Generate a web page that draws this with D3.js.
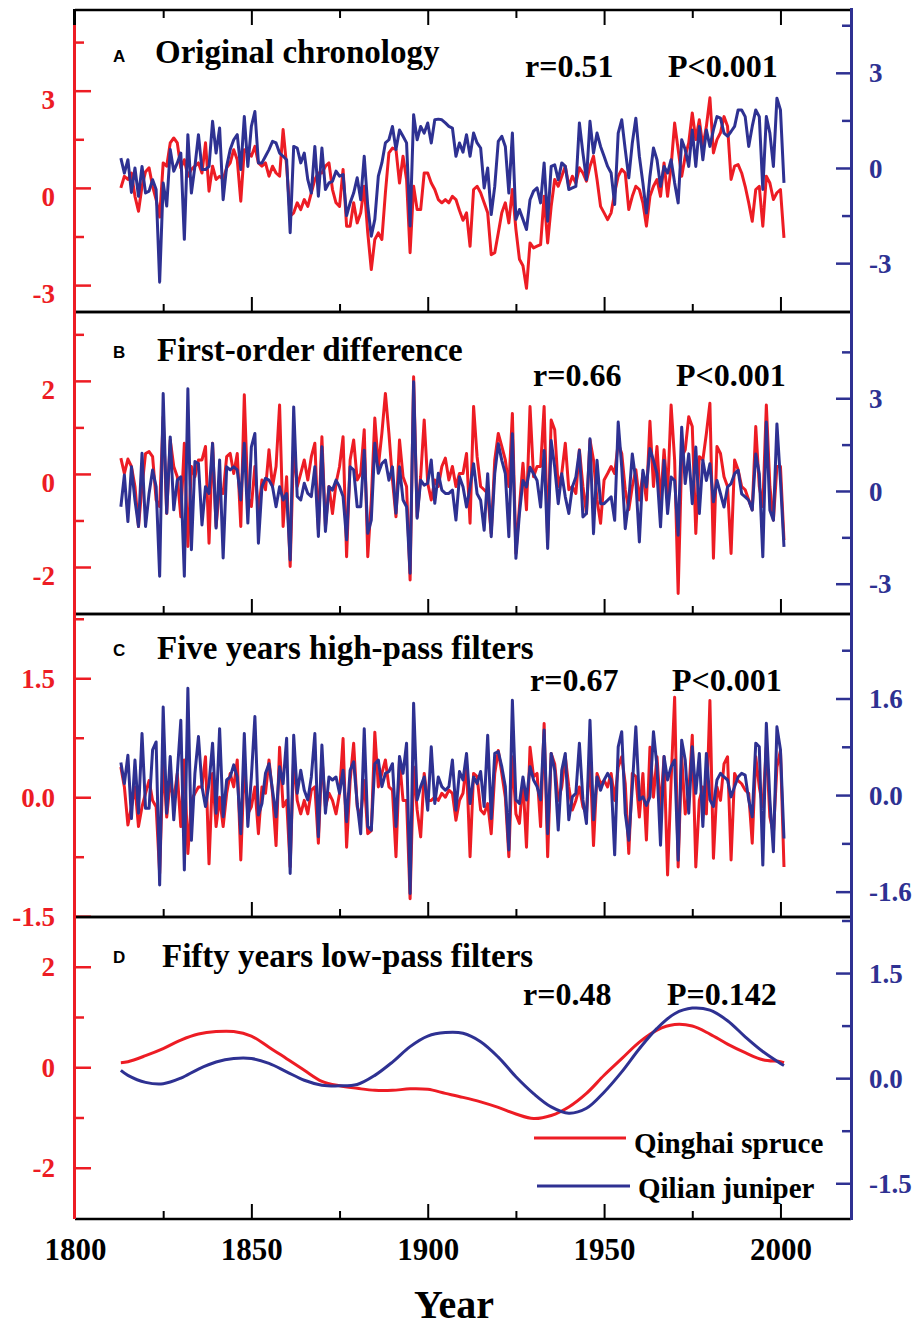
<!DOCTYPE html>
<html>
<head>
<meta charset="utf-8">
<script src="https://cdn.jsdelivr.net/npm/d3@7"></script>
<style>
  body { margin: 0; background: #fff; }
  svg { display: block; }
</style>
</head>
<body>
<div id="main"></div>
<script>
// years covered by the annual series
const startYear = 1813;
const endYear = 2001;
const years = d3.range(startYear, endYear + 1);

// A: original chronology
const spruceRaw = [
  0.0, 0.36, 0.26, 0.46, -0.26, -0.72, 0.05, 0.5, 0.62, 0.05,
  -0.36, -0.9, 0.77, 0.67, 1.39, 1.54, 1.39, 0.62, 0.87, 0.36,
  0.57, 0.67, 0.77, 0.46, 1.39, -0.1, 0.67, 0.26, 0.36, 0.26,
  0.62, 0.77, 1.18, 0.87, -0.41, 1.18, 1.08, 0.98, 1.28, 0.77,
  0.67, 0.77, 0.36, 0.67, 0.46, 0.36, 1.8, 0.67, -0.87, -0.77,
  -0.46, -0.67, -0.36, -0.57, -0.15, 0.26, 0.46, 0.46, 0.67, 0.77,
  -0.05, -0.46, -0.57, 0.57, -1.18, -1.18, -0.46, -1.08, -0.77, 0.05,
  -1.39, -2.52, -1.59, -1.39, -1.59, -0.15, 1.08, 1.23, 1.18, 0.15,
  0.98, 0.26, -2.0, 0.05, -0.67, -0.67, 0.46, 0.46, 0.15, -0.05,
  -0.36, -0.46, -0.36, -0.46, -0.26, -0.36, -0.7, -1.0, -0.77, -1.8,
  -0.05, 0.05, -0.15, -0.46, -0.77, -2.06, -2.0, -1.39, -0.77, -0.46,
  -1.08, -0.05, -1.28, -2.2, -2.4, -3.1, -1.7, -1.85, -1.8, -1.75,
  -0.26, -1.7, -0.57, 0.26, 0.05, 0.36, 0.67, 0.05, 0.36, 0.15,
  0.62, 0.46, 0.21, 0.67, 0.98, 0.26, -0.57, -0.77, -0.98, -0.77,
  -0.15, 0.36, 0.57, 0.46, -0.67, -0.26, 0.05, -0.05, -0.46, -1.18,
  -0.26, 0.05, 0.26, -0.26, 0.77, -0.26, 0.67, 2.0, 1.18, 0.36,
  0.98, 1.39, 2.31, 1.49, 2.1, 1.28, 1.9, 2.78, 1.08, 1.49,
  1.7, 2.2, 1.9, 0.26, 0.67, 0.72, 0.46, 0.05, -0.46, -1.03,
  -0.05, 0.05, -1.18, 0.36, 0.15, -0.36, -0.15, -0.05, -1.54
];
const juniperRaw = [
  0.31, -0.16, 0.26, -0.77, 0, -0.89, 0.05, -0.79, -0.73, -0.37,
  -0.68, -3.6, -0.47, -1.2, 0.58, -0.1, 0.16, 0.47, -2.25, 1.05,
  -0.79, 0.05, 1.05, -0.05, -0.05, 0.05, 1.47, 0.47, 1.26, -1.0,
  0.05, 0.58, 0.89, 1.05, -0.05, 1.62, 0.05, 1.31, 1.78, 0.16,
  0.16, 0.37, 0.58, 0.84, 0.79, 0.47, 0.37, 0.26, -2.04, 0.68,
  0.63, 0.16, 0.47, -0.37, -0.79, 0.68, -0.89, 0.63, -0.68, -0.47,
  -0.42, -0.1, -0.26, -0.21, -1.5, -1.1, -0.79, -0.31, -1.0, 0.37,
  -1.2, -2.15, -1.62, -0.26, 0.16, 0.79, 0.89, 1.31, 0.58, 1.2,
  1.0, 0.79, -1.83, 1.68, 0.89, 1.31, 1.1, 1.42, 0.79, 1.52,
  1.54, 1.52, 1.42, 1.31, 1.26, 0.37, 0.79, 0.5, 1.05, 0.37,
  1.1, 0.79, 0.63, -0.63, 0, -1.47, -0.58, 0.84, 1.0, 0.68,
  -0.79, 1.1, -1.62, -1.31, -1.62, -1.94, -1.0, -0.73, -0.63, -1.1,
  0.16, -1.68, 0.05, 0.1, -0.37, 0.16, 0.05, -0.68, -0.63, -0.58,
  1.42, 0.47, -0.37, 1.47, 0.47, 1.1, 0.68, 0.37, 0.05, -0.16,
  -1.15, 1.1, 1.52, 0.58, -0.31, 0.79, 1.57, 0.37, -0.47, -1.42,
  -0.26, 0.63, 0.26, -0.58, 0.05, -0.16, 0.26, -0.47, -1.1, 0.89,
  0.58, 0.05, 1.2, 0.05, 1.31, 0.26, 1.2, 0.68, 1.2, 1.62,
  1.57, 1.1, 1.0, 1.15, 1.31, 1.83, 1.83, 1.62, 0.68, 1.31,
  1.83, 1.62, -0.68, 1.62, 1.1, 0.05, 2.2, 1.83, -0.47
];

// B: first-order difference
const spruceDiff = [
  0.34, 0.01, 0.32, 0.16, -0.27, -1.13, -0.27, 0.44, 0.48, 0.37,
  -0.56, -0.7, 1.23, -0.85, 0.73, 0.16, -0.06, -0.92, 0.66, -1.56,
  0.16, -0.06, 0.3, 0.3, 0.59, -1.49, 0.66, -1.13, -0.27, -0.42,
  0.37, 0.44, 0.01, 0.44, -1.13, 1.7, -0.49, -0.7, 0.16, -0.85,
  -0.13, -0.34, 0.52, -0.27, 0.16, 1.48, -1.13, -0.06, -1.99, 0.59,
  -0.27, 0.01, 0.3, -0.13, 0.37, 0.66, -1.2, 0.8, -1.13, -0.27,
  -0.85, -0.2, 0.16, 0.8, -1.78, 0.3, 0.73, -0.13, 0.01, 0.95,
  -1.78, -0.56, 1.2, 0.16, 0.87, 1.73, 0.87, -0.13, -0.92, 0.73,
  -0.06, -0.27, -2.28, 2.09, -0.92, -0.06, 1.16, -0.2, -0.56, -0.13,
  -0.27, 0.16, 0.34, -0.13, 0.16, -0.27, 0.01, 0.01, 0.44, -1.06,
  1.45, 0.37, -0.27, -0.34, -0.42, -1.28, 0.3, 0.87, 0.59, 0.3,
  -0.27, 1.3, -1.71, -0.7, 0.23, -0.77, 1.45, -0.06, 0.16, 0.16,
  1.45, -1.42, 1.16, 0.95, -0.27, 0.01, 0.66, -0.34, -0.27, -0.42,
  0.52, -0.27, -0.85, 0.73, 0.3, -0.56, -1.06, -0.13, 0.01, 0.16,
  0.01, 0.66, 0.44, -0.34, -0.77, -0.27, 0.09, -0.56, 0.01, -0.56,
  1.13, -0.27, 0.59, -0.63, 0.52, -0.42, 1.48, 0.3, -2.57, 0.37,
  0.52, 1.23, 1.02, -1.28, 0.37, 0.3, 0.87, 1.52, -1.81, 0.59,
  0.44, -0.06, -0.27, -1.71, 0.3, 0.09, -0.27, -0.34, -0.56, -0.77,
  1.02, -0.27, -0.7, 1.48, -0.27, -0.99, 0.16, 0.16, -1.42
];
const juniperDiff = [
  -0.51, 0.52, -0.99, 0.78, -0.3, -1.15, 1.22, -1.15, -0.08, 0.68,
  0.14, -2.76, 3.15, -0.72, 1.75, -0.61, 0.35, 0.46, -2.76, 3.31,
  -1.9, 0.95, 0.89, -1.1, 0.14, -0.08, 1.54, -1.2, 1.0, -2.17,
  0.78, 0.68, 0.78, 0.68, -0.29, 1.54, -1.04, 1.43, 1.86, -1.69,
  0.14, 0.41, 0.35, 0.14, -0.51, 0.14, -0.29, -0.08, -2.23, 2.72,
  -0.18, -0.29, 0.25, -0.08, -0.18, 0.78, -1.47, 1.43, -1.31, 0.14,
  0.03, 0.35, 0.14, -0.18, -1.58, 0.78, 0.68, -0.51, -0.51, 1.32,
  -1.37, -0.94, 1.54, 0.57, 0.89, 1.0, 0.35, 0.78, -0.72, 0.78,
  -0.29, -0.51, -2.66, 3.53, -0.88, 0.35, 0.19, 0.25, 1.0, -0.4,
  0.57, 0.03, -0.08, -0.08, 0.03, -0.94, 0.46, 0.14, -0.52, 0.13,
  0.88, -0.09, -0.3, -1.27, 0.56, -1.48, 0.56, 1.53, 0.99, 0.56,
  -1.48, 1.85, -2.18, -0.73, 0.34, 0.13, 0.77, 0.56, 0.34, -0.52,
  1.31, -1.86, 1.63, 0.77, -0.41, 0.56, -0.19, -0.73, 0.13, 0.45,
  1.31, -0.84, -0.73, 1.69, -1.38, 0.99, -0.41, -0.41, -0.3, -0.19,
  -0.95, 2.23, 0.77, -1.22, -0.3, 1.2, 0.34, -1.65, 0.67, 0.13,
  1.37, 0.99, 0.56, -1.16, 0.99, -0.73, 0.45, 0.34, -1.43, 2.06,
  0.24, 1.2, -0.41, 1.42, -0.73, 0.99, 0.34, 0.88, -0.35, 0.34,
  -0.09, -0.52, 0.13, 0.24, 0.56, 0.67, -0.09, -0.19, -0.3, -0.62,
  1.2, 0.56, -2.13, 2.23, -0.62, -0.95, 2.17, 0.34, -1.81
];

// C: five years high-pass
const spruceHigh = [
  0.38, 0.13, -0.35, -0.12, 0.13, -0.37, -0.12, 0.05, 0.21, -0.04,
  -0.12, -0.96, 0.47, -0.25, 0.21, -0.04, 0.3, -0.37, 0.47, -0.71,
  -0.04, 0.05, 0.13, 0.13, 0.51, -0.84, 0.3, -0.37, 0.0, -0.37,
  0.05, 0.3, 0.13, 0.47, -0.79, 0.42, -0.21, -0.12, 0.13, -0.46,
  0.13, 0.05, 0.47, 0.05, -0.61, 0.63, -0.12, -0.04, -0.88, 0.51,
  -0.04, -0.21, -0.04, -0.21, 0.09, 0.13, -0.58, 0.51, -0.12, 0.05,
  -0.04, -0.21, 0.05, 0.74, -0.63, 0.21, 0.68, -0.12, -0.25, 0.21,
  -0.46, -0.42, 0.82, 0.13, 0.3, 0.47, 0.13, 0.09, -0.75, 0.47,
  -0.04, -0.04, -1.28, 0.38, -0.16, -0.5, 0.3, -0.04, -0.04, 0.0,
  -0.04, 0.05, 0.0, 0.09, 0.05, -0.29, -0.04, 0.05, 0.42, -0.75,
  0.3, 0.26, -0.16, -0.21, -0.08, -0.46, 0.3, 0.59, 0.3, 0.0,
  -0.75, 0.51, -0.21, -0.33, 0.21, -0.63, 0.63, 0.26, 0.3, -0.37,
  0.93, -0.75, 0.55, 0.42, -0.04, 0.13, 0.51, 0.13, -0.16, -0.04,
  0.13, -0.12, -0.21, 0.51, -0.61, 0.3, 0.17, 0.21, 0.13, 0.3,
  -0.04, 0.38, 0.51, 0.17, -0.71, 0.3, 0.26, -0.25, 0.3, -0.54,
  0.63, 0.0, 0.51, -0.16, 0.51, -0.98, 0.21, 1.26, -0.88, 0.51,
  -0.21, 0.05, 0.78, -0.88, -0.04, 0.13, -0.21, 1.22, -0.77, 0.13,
  -0.04, 0.42, 0.51, -0.79, 0.3, 0.21, 0.17, 0.09, 0.05, -0.58,
  0.51, 0.13, -0.12, 0.63, -0.25, -0.46, 0.38, 0.59, -0.88
];
const juniperHigh = [
  0.54, 0.19, 0.66, -0.39, 0.58, -0.3, 1.02, -0.22, -0.22, 0.75,
  0.88, -1.49, 1.46, -0.3, 0.64, -0.41, 0.36, 1.24, -1.24, 1.77,
  -0.75, 0.36, 0.97, 0.14, -0.19, 0.19, 0.86, -0.3, 1.1, -0.36,
  0.25, 0.3, 0.5, 0.3, -0.64, 1.02, -0.52, 0.3, 1.3, -0.33,
  -0.14, 0.36, 0.52, 0.08, -0.36, 0.47, 0.19, 0.94, -1.3, 0.99,
  0.03, 0.41, 0.08, -0.08, 0.3, 1.02, -0.69, 0.83, -0.3, 0.3,
  0.25, 0.3, 0.03, 0.41, -0.44, 0.41, 0.55, -0.14, -0.64, 1.1,
  -0.52, -0.58, 0.52, 0.58, 0.14, 0.36, 0.39, 0.52, -0.52, 0.64,
  0.36, 0.86, -1.63, 1.52, -0.08, 0.14, 0.3, -0.25, 0.8, -0.14,
  0.3, 0.14, 0.08, 0.14, 0.58, -0.25, 0.39, 0.25, 0.69, -0.14,
  0.3, 0.19, 0.39, -0.19, 0.99, -0.39, 0.69, 0.72, 0.47, 0.14,
  -0.91, 1.57, -0.08, -0.14, 0.3, -0.08, 0.47, 0.25, 0.14, -0.08,
  1.08, -0.64, 0.69, 0.41, -0.58, 0.41, 0.69, -0.41, -0.03, 0.03,
  0.86, -0.08, -0.47, 1.24, -0.41, 0.3, 0.08, 0.25, 0.36, 0.25,
  -0.99, 0.8, 1.05, -0.3, -0.75, 0.14, 1.13, -0.08, -0.03, -0.17,
  -0.03, 1.05, 0.47, -0.83, 0.64, 0.25, 0.47, 0.58, -1.08, 0.91,
  0.58, -0.3, 0.8, 0.03, 0.69, -0.52, 0.69, -0.08, -0.19, 0.25,
  0.36, 0.3, 0.25, -0.03, 0.14, 0.3, 0.36, 0.33, -0.08, -0.36,
  0.86, 0.8, -1.16, 1.19, -0.08, -0.94, 1.13, 0.75, -0.72
];

// D: fifty years low-pass (read every 5 years)
const lowYears = [1813, 1815, 1820, 1825, 1830, 1835, 1840, 1845, 1850, 1855,
  1860, 1865, 1870, 1875, 1880, 1885, 1890, 1895, 1900, 1905,
  1910, 1915, 1920, 1925, 1930, 1935, 1940, 1945, 1950, 1955,
  1960, 1965, 1970, 1975, 1980, 1985, 1990, 1995, 2000, 2001];
const spruceLow = [0.09, 0.11, 0.23, 0.37, 0.54, 0.66, 0.71, 0.71, 0.62, 0.4,
  0.17, -0.06, -0.28, -0.37, -0.42, -0.46, -0.46, -0.43, -0.44, -0.52,
  -0.6, -0.69, -0.8, -0.93, -1.02, -0.96, -0.79, -0.52, -0.16, 0.17,
  0.5, 0.74, 0.85, 0.82, 0.66, 0.46, 0.29, 0.15, 0.11, 0.09];
const juniperLow = [0.11, 0.04, -0.06, -0.08, 0.0, 0.13, 0.23, 0.28, 0.28, 0.21,
  0.09, -0.03, -0.1, -0.11, -0.09, 0.04, 0.23, 0.45, 0.6, 0.65,
  0.64, 0.52, 0.3, 0.02, -0.22, -0.41, -0.5, -0.43, -0.2, 0.09,
  0.42, 0.71, 0.92, 1.0, 0.97, 0.82, 0.59, 0.38, 0.21, 0.18];

const letters = ["A", "B", "C", "D"];
const titles = ["Original chronology", "First-order difference",
  "Five years high-pass filters", "Fifty years low-pass filters"];
const rTexts = ["r=0.51", "r=0.66", "r=0.67", "r=0.48"];
const pTexts = ["P<0.001", "P<0.001", "P<0.001", "P=0.142"];
const leftTicks = [[-3, 0, 3], [-2, 0, 2], [-1.5, 0, 1.5], [-2, 0, 2]];
const rightTicks = [[-3, 0, 3], [-3, 0, 3], [-1.6, 0, 1.6], [-1.5, 0, 1.5]];
const xMajor = [1850, 1900, 1950, 2000];
const xMinor = [1825, 1875, 1925, 1975];
const xLabels = [1800, 1850, 1900, 1950, 2000];
const seriesNames = ["Qinghai spruce", "Qilian juniper"];

const RED = "#ed1c24";
const BLUE = "#2e3192";
const SERIF = "'Liberation Serif', 'Times New Roman', serif";
const SANS = "'Liberation Sans', Arial, sans-serif";

const width = 919, height = 1328;
const left = 75, right = 851;

const pair = (xs, ys) => xs.map((d, i) => [d, ys[i]]);

const panels = [
  { top: 10, bottom: 312, yl: [-3.83, 5.49], yr: [-4.54, 4.98], dec: false, labelDy: "0.66em",
    red: pair(years, spruceRaw), blue: pair(years, juniperRaw),
    lx: 113, tx: 155, ty: 63, ly: 62, rx: 525, px: 668, sy: 77 },
  { top: 312, bottom: 614, yl: [-3.01, 3.48], yr: [-3.98, 5.79], dec: false, labelDy: "0.66em",
    red: pair(years, spruceDiff), blue: pair(years, juniperDiff),
    lx: 113, tx: 157, ty: 361, ly: 358, rx: 533, px: 676, sy: 386 },
  { top: 614, bottom: 917, yl: [-1.51, 2.31], yr: [-2.02, 3.0], dec: true, labelDy: "0.34em",
    red: pair(years, spruceHigh), blue: pair(years, juniperHigh),
    lx: 113, tx: 157, ty: 659, ly: 656, rx: 530, px: 672, sy: 691 },
  { top: 917, bottom: 1219, yl: [-3.02, 2.99], yr: [-2.01, 2.3], dec: false, rdec: true, labelDy: "0.34em",
    red: pair(lowYears, spruceLow), blue: pair(lowYears, juniperLow), smooth: true,
    lx: 113, tx: 162, ty: 967, ly: 963, rx: 523, px: 667, sy: 1005 }
];

const svg = d3.select("#main")
  .append("svg")
  .attr("width", width)
  .attr("height", height);

const x = d3.scaleLinear().domain([1800, 2020]).range([left, right]);

const numFmt = (dec) => (d) => {
  const s = dec ? d3.format(".1f")(Math.abs(d)) : d3.format("d")(Math.abs(d));
  return (d < 0 ? "-" : "") + s;
};

// minor ticks halfway between the labelled ones, kept inside the panel
function minorTicks(ticks, scale, top, bottom) {
  const step = ticks[1] - ticks[0];
  const out = [];
  for (let v = ticks[0] - step * 2.5; v <= ticks[ticks.length - 1] + step * 2.5; v += step) {
    const py = scale(v);
    if (py > top + 3 && py < bottom - 3) out.push(v);
  }
  return out;
}

function styleTicks(sel, color, w) {
  sel.select(".domain").remove();
  sel.selectAll(".tick line").attr("stroke", color).attr("stroke-width", w);
}

panels.forEach((p, i) => {
  const yL = d3.scaleLinear().domain(p.yl).range([p.bottom, p.top]);
  const yR = d3.scaleLinear().domain(p.yr).range([p.bottom, p.top]);
  const g = svg.append("g").attr("class", "panel");

  // frame lines
  [p.top, p.bottom].forEach((yy) => {
    g.append("line")
      .attr("x1", left).attr("x2", right)
      .attr("y1", yy).attr("y2", yy)
      .attr("stroke", "#000").attr("stroke-width", 2.5);
  });

  // year ticks on the bottom edge (and top edge for the first panel)
  const xt = g.append("g").attr("transform", `translate(0,${p.bottom})`);
  xt.append("g").call(d3.axisBottom(x).tickValues(xMajor).tickSize(-15).tickFormat("")).call(styleTicks, "#000", 2);
  xt.append("g").call(d3.axisBottom(x).tickValues(xMinor).tickSize(-8).tickFormat("")).call(styleTicks, "#000", 2);
  if (i === 0) {
    const xtop = g.append("g").attr("transform", `translate(0,${p.top})`);
    xtop.append("g").call(d3.axisTop(x).tickValues(xMajor).tickSize(-15).tickFormat("")).call(styleTicks, "#000", 2);
    xtop.append("g").call(d3.axisTop(x).tickValues(xMinor).tickSize(-8).tickFormat("")).call(styleTicks, "#000", 2);
  }

  // left (red) axis
  const la = g.append("g").attr("transform", `translate(${left},0)`);
  la.append("g")
    .call(d3.axisLeft(yL).tickValues(leftTicks[i]).tickSize(-16).tickPadding(20).tickFormat(numFmt(p.dec)))
    .call(styleTicks, RED, 2.5)
    .call((s) => s.selectAll(".tick text")
      .attr("fill", RED).attr("dy", p.labelDy)
      .style("font-family", SERIF).style("font-weight", "bold").style("font-size", "27px"));
  la.append("g")
    .call(d3.axisLeft(yL).tickValues(minorTicks(leftTicks[i], yL, p.top, p.bottom)).tickSize(-9).tickFormat(""))
    .call(styleTicks, RED, 2.5);

  // right (blue) axis
  const ra = g.append("g").attr("transform", `translate(${right},0)`);
  ra.append("g")
    .call(d3.axisRight(yR).tickValues(rightTicks[i]).tickSize(-15).tickPadding(18).tickFormat(numFmt(p.dec || p.rdec)))
    .call(styleTicks, BLUE, 2.5)
    .call((s) => s.selectAll(".tick text")
      .attr("fill", BLUE).attr("dy", "0.34em")
      .style("font-family", SERIF).style("font-weight", "bold").style("font-size", "27px"));
  ra.append("g")
    .call(d3.axisRight(yR).tickValues(minorTicks(rightTicks[i], yR, p.top, p.bottom)).tickSize(-9).tickFormat(""))
    .call(styleTicks, BLUE, 2.5);

  // series
  const curve = p.smooth ? d3.curveCatmullRom.alpha(0.5) : d3.curveLinear;
  const lineL = d3.line().x((d) => x(d[0])).y((d) => yL(d[1])).curve(curve);
  const lineR = d3.line().x((d) => x(d[0])).y((d) => yR(d[1])).curve(curve);
  g.append("path").datum(p.red)
    .attr("d", lineL).attr("fill", "none").attr("stroke", RED)
    .attr("stroke-width", 3).attr("stroke-linejoin", "round");
  g.append("path").datum(p.blue)
    .attr("d", lineR).attr("fill", "none").attr("stroke", BLUE)
    .attr("stroke-width", 3).attr("stroke-linejoin", "round");

  // texts
  g.append("text")
    .attr("x", p.lx).attr("y", p.ly)
    .style("font-family", SANS).style("font-weight", "bold").style("font-size", "17px")
    .text(letters[i]);
  g.append("text")
    .attr("x", p.tx).attr("y", p.ty)
    .style("font-family", SERIF).style("font-weight", "bold").style("font-size", "33px")
    .text(titles[i]);
  g.append("text")
    .attr("x", p.rx).attr("y", p.sy)
    .style("font-family", SERIF).style("font-weight", "bold").style("font-size", "32px")
    .text(rTexts[i]);
  g.append("text")
    .attr("x", p.px).attr("y", p.sy)
    .style("font-family", SERIF).style("font-weight", "bold").style("font-size", "32px")
    .text(pTexts[i]);
});

// spines
svg.append("line")
  .attr("x1", left - 0.5).attr("x2", left - 0.5)
  .attr("y1", 25).attr("y2", 1219)
  .attr("stroke", RED).attr("stroke-width", 3);
svg.append("line")
  .attr("x1", left - 0.5).attr("x2", left - 0.5)
  .attr("y1", 9).attr("y2", 25)
  .attr("stroke", "#000").attr("stroke-width", 3);
svg.append("line")
  .attr("x1", right + 0.5).attr("x2", right + 0.5)
  .attr("y1", 8).attr("y2", 1220)
  .attr("stroke", BLUE).attr("stroke-width", 3);

// year labels
svg.append("g")
  .attr("transform", "translate(0,1219)")
  .call(d3.axisBottom(x).tickValues(xLabels).tickSize(0).tickPadding(19).tickFormat(d3.format("d")))
  .call((s) => s.select(".domain").remove())
  .call((s) => s.selectAll(".tick text")
    .attr("fill", "#000")
    .style("font-family", SERIF).style("font-weight", "bold").style("font-size", "31px"));

svg.append("text")
  .attr("x", 454).attr("y", 1318)
  .attr("text-anchor", "middle")
  .style("font-family", SERIF).style("font-weight", "bold").style("font-size", "40px")
  .text("Year");

// legend
const legend = svg.append("g").attr("class", "legend");
const legendRows = [
  { name: seriesNames[0], color: RED, x1: 534, x2: 626, y: 1138, tx: 634, ty: 1153 },
  { name: seriesNames[1], color: BLUE, x1: 537, x2: 630, y: 1186, tx: 638, ty: 1198 }
];
legendRows.forEach((r) => {
  legend.append("line")
    .attr("x1", r.x1).attr("x2", r.x2).attr("y1", r.y).attr("y2", r.y)
    .attr("stroke", r.color).attr("stroke-width", 3);
  legend.append("text")
    .attr("x", r.tx).attr("y", r.ty)
    .style("font-family", SERIF).style("font-weight", "bold").style("font-size", "29px")
    .text(r.name);
});
</script>
</body>
</html>
